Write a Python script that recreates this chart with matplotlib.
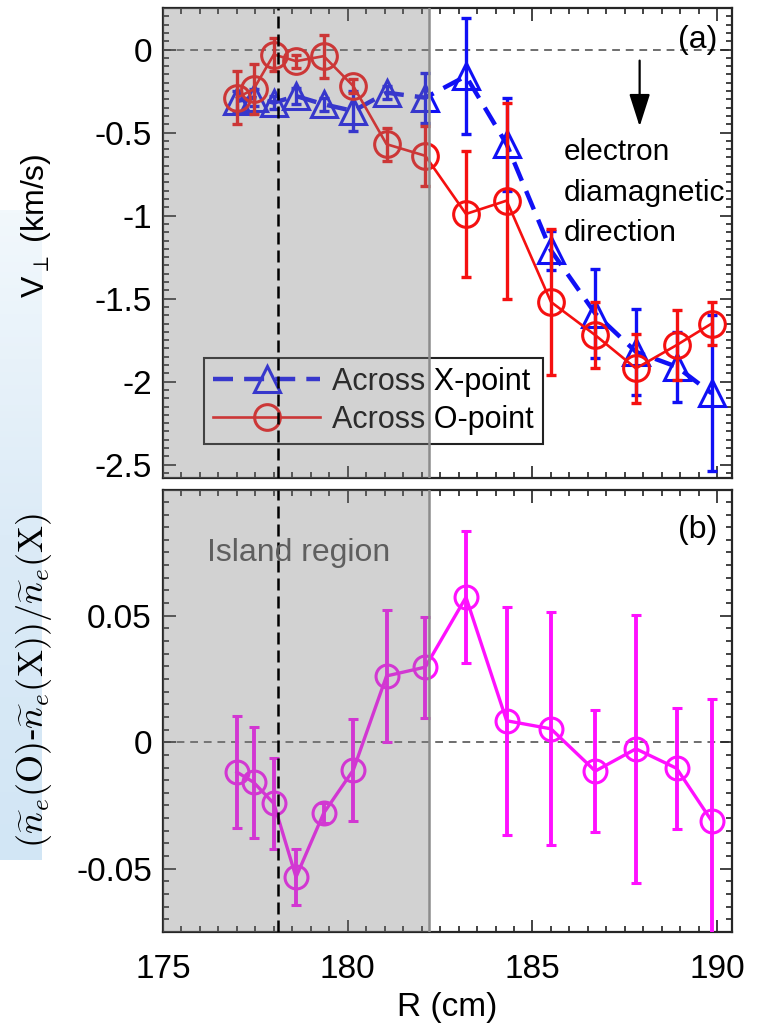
import numpy as np
import matplotlib
matplotlib.use("Agg")
import matplotlib.pyplot as plt
from matplotlib.ticker import MultipleLocator
from matplotlib.colors import LinearSegmentedColormap

plt.rcParams['font.family'] = ['Liberation Sans', 'DejaVu Sans']

# ---------------- data ----------------
R = [177.0, 177.45, 178.0, 178.6, 179.35, 180.15, 181.05, 182.1,
     183.2, 184.3, 185.5, 186.7, 187.8, 188.9, 189.85]

v_xpoint = [-0.31, -0.29, -0.32, -0.28, -0.33, -0.37, -0.26, -0.29,
            -0.16, -0.57, -1.21, -1.59, -1.82, -1.91, -2.07]
v_xpoint_err = [0.06, 0.05, 0.04, 0.05, 0.04, 0.12, 0.04, 0.15,
                0.35, 0.28, 0.12, 0.27, 0.26, 0.21, 0.47]

v_opoint = [-0.29, -0.24, -0.03, -0.07, -0.04, -0.22, -0.57, -0.64,
            -0.99, -0.91, -1.52, -1.72, -1.92, -1.78, -1.65]
v_opoint_err = [0.16, 0.15, 0.10, 0.04, 0.13, 0.04, 0.10, 0.18,
                0.38, 0.59, 0.44, 0.20, 0.21, 0.21, 0.13]

dn = [-0.0118, -0.0158, -0.0242, -0.0533, -0.0280, -0.0110, 0.0262, 0.0297,
      0.0573, 0.0085, 0.0053, -0.0114, -0.0026, -0.0103, -0.0311]
dn_err = [0.022, 0.022, 0.018, 0.011, 0.004, 0.020, 0.026, 0.020,
          0.026, 0.045, 0.046, 0.024, 0.053, 0.024, 0.048]

x_ticks = [175, 180, 185, 190]
x_ticklabels = ['175', '180', '185', '190']
y1_ticks = [-2.5, -2.0, -1.5, -1.0, -0.5, 0.0]
y1_ticklabels = ['-2.5', '-2', '-1.5', '-1', '-0.5', '0']
y2_ticks = [-0.05, 0.0, 0.05]
y2_ticklabels = ['-0.05', '0', '0.05']

island = (175.0, 182.2)
x_res = 178.1
legend_labels = ['Across X-point', 'Across O-point']

# ---------------- style ----------------
BLUE = '#1010f5'
RED = '#f51010'
MAG = '#ff10ff'
W, H = 761, 1029

fig = plt.figure(figsize=(W / 100, H / 100), dpi=100)

# pale blue strip at far left (part of original screenshot)
bg = fig.add_axes([0, 1 - 860 / H, 42 / W, (860 - 210) / H], zorder=-5)
grad = np.linspace(0, 1, 200)[:, None]
bg.imshow(grad, aspect='auto',
          cmap=LinearSegmentedColormap.from_list('g', ['#f2f8fc', '#dcebf7', '#d2e6f5']))
bg.axis('off')

ax1 = fig.add_axes([163 / W, 1 - 478 / H, 569 / W, 470 / H])
ax2 = fig.add_axes([163 / W, 1 - 932 / H, 569 / W, 442 / H])

for ax in (ax1, ax2):
    ax.set_xlim(175, 190.4)
    ax.xaxis.set_minor_locator(MultipleLocator(0.5))
    ax.set_xticks(x_ticks)
    ax.tick_params(which='both', direction='in', top=True, right=True,
                   labelsize=24, color='#222222', width=1.2)
    ax.tick_params(axis='y', pad=8)
    ax.tick_params(axis='x', pad=16)
    ax.tick_params(which='major', length=9)
    ax.tick_params(which='minor', length=4.5)
    for s in ax.spines.values():
        s.set_linewidth(1.6)
        s.set_color('#262626')
    ax.axvspan(island[0], island[1], facecolor=(0.5, 0.5, 0.5), alpha=0.35,
               lw=0, zorder=8)
    ax.axvline(island[1], color='#8c8c8c', lw=1.8, zorder=8.5)
    ax.axvline(x_res, color='k', ls=(0, (4.8, 2.4)), lw=1.8, zorder=9)
    ax.axhline(0, color='#6e6e6e', ls=(0, (4, 3)), lw=1.4, zorder=1)

# ---- panel (a) ----
ax1.set_ylim(-2.58, 0.25)
ax1.set_yticks(y1_ticks, labels=y1_ticklabels)
ax1.yaxis.set_minor_locator(MultipleLocator(0.05))
ax1.tick_params(labelbottom=False)

ax1.errorbar(R, v_xpoint, yerr=v_xpoint_err, fmt='none', ecolor=BLUE,
             elinewidth=2.4, capsize=3.5, capthick=2.4, zorder=2)
lx, = ax1.plot(R, v_xpoint, ls='--', dashes=(4.5, 2.5), lw=3.2, color=BLUE,
               marker='^', ms=19, mfc='none', mec=BLUE, mew=2.2, zorder=2.5)
ax1.errorbar(R, v_opoint, yerr=v_opoint_err, fmt='none', ecolor=RED,
             elinewidth=2.4, capsize=3.5, capthick=2.4, zorder=3)
lo, = ax1.plot(R, v_opoint, ls='-', lw=1.9, color=RED,
               marker='o', ms=18.5, mfc='none', mec=RED, mew=2.2, zorder=3.5)

leg = ax1.legend([lx, lo], legend_labels, loc='upper left',
                 bbox_to_anchor=(0.072, 0.2553), borderaxespad=0,
                 fontsize=22, fancybox=False, edgecolor='#222222',
                 framealpha=1, handlelength=3.5, handletextpad=0.4,
                 borderpad=0.3, labelspacing=0.25)
leg.set_zorder(5)
leg.get_frame().set_linewidth(1.5)

ax1.text(0.974, 0.932, '(a)', transform=ax1.transAxes, ha='right',
         va='center', fontsize=23, zorder=10)
ax1.annotate('', xy=(187.9, -0.48), xytext=(187.9, -0.05),
             arrowprops=dict(arrowstyle='-|>,head_length=1.0,head_width=0.32',
                             mutation_scale=20, color='k', lw=1.6))
for txt, yv in zip(['electron', 'diamagnetic', 'direction'],
                   [-0.618, -0.862, -1.104]):
    ax1.text(185.85, yv, txt, ha='left', va='center', fontsize=21.5, zorder=10)

# ---- panel (b) ----
ax2.set_ylim(-0.075, 0.0997)
ax2.set_yticks(y2_ticks, labels=y2_ticklabels)
ax2.yaxis.set_minor_locator(MultipleLocator(0.005))
ax2.set_xticks(x_ticks, labels=x_ticklabels)

ax2.errorbar(R, dn, yerr=dn_err, fmt='-', color=MAG, lw=2.4,
             marker='o', ms=16.5, mfc='none', mec=MAG, mew=2.2,
             ecolor=MAG, elinewidth=2.8, capsize=3.5, capthick=2.8, zorder=3)
ax2.text(176.2, 0.0748, 'Island region', ha='left', va='center',
         fontsize=23, color='#5f5f5f', zorder=10)
ax2.text(0.974, 0.9095, '(b)', transform=ax2.transAxes, ha='right',
         va='center', fontsize=23, zorder=10)
ax2.set_xlabel('R (cm)', fontsize=24, labelpad=5)

# y labels
fig.text(36 / W, 1 - 226 / H, r'V$_{\perp}$ (km/s)', rotation=90,
         ha='center', va='center', fontsize=23)
fig.text(34 / W, 1 - 680 / H,
         r'$(\widetilde{n}_e(\mathrm{O})$-$\widetilde{n}_e(\mathrm{X}))/\widetilde{n}_e(\mathrm{X})$',
         rotation=90, ha='center', va='center', fontsize=26,
         family=['DejaVu Serif'], math_fontfamily='cm')

fig.savefig('out.png', dpi=100)
